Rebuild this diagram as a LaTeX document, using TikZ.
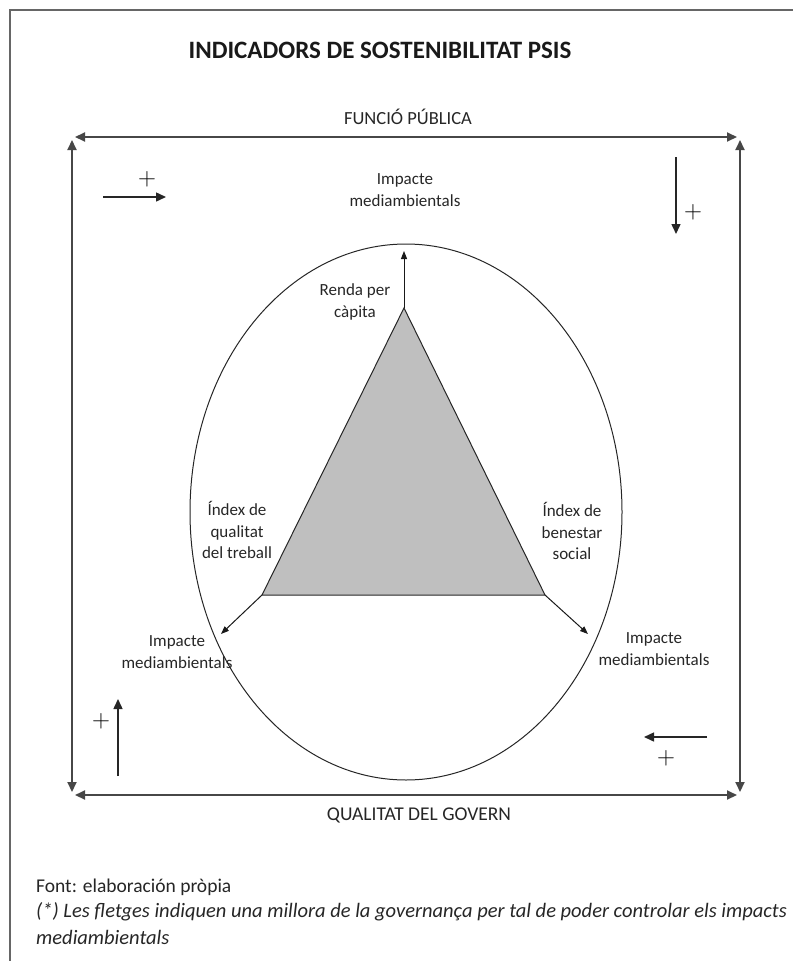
\documentclass[tikz,border=0pt]{standalone}
\usepackage{fontspec}
\setmainfont{Carlito}
\usetikzlibrary{arrows.meta,shapes.geometric}
\begin{document}
\begin{tikzpicture}[x=1pt,y=-1pt,
  frameline/.style={draw=black!72, line width=2pt, {Triangle[length=10pt,width=9pt]}-{Triangle[length=10pt,width=9pt]}},
  smallarrow/.style={draw=black!85, line width=1.5pt, -{Triangle[length=10pt,width=9pt]}},
  axisarrow/.style={draw=black!90, line width=1pt, -{Triangle[length=8pt,width=6pt]}},
  lbl/.style={font=\fontsize{17}{21.5}\selectfont, align=center, inner sep=0pt, text=black!85},
  capslbl/.style={font=\fontsize{19.5}{22}\selectfont, inner sep=0pt, text=black!85},
  plus/.style={font=\fontsize{23}{23}\selectfont, inner sep=0pt, text=black},
  foot/.style={font=\fontsize{19.5}{22}\selectfont, anchor=west, inner sep=0pt, text=black!85},
  footit/.style={foot, font=\fontsize{20.5}{22}\itshape\selectfont}
]
\useasboundingbox (0,0) rectangle (793,961);
% outer page frame
\draw[black!60, line width=1.2pt] (10,961) -- (10,10) -- (793,10);

% title
\node[font=\fontsize{25}{28}\bfseries\selectfont, inner sep=0pt, text=black!90] (title) at (380,50) {INDICADORS DE SOSTENIBILITAT PSIS};

% frame corners
\coordinate (tl) at (72,137);
\coordinate (tr) at (740,137);
\coordinate (bl) at (72,795);
\coordinate (br) at (740,795);
\draw[frameline] ([xshift=3pt]tl) -- ([xshift=-3pt]tr);
\draw[frameline] ([xshift=3pt]bl) -- ([xshift=-3pt]br);
\draw[frameline] ([yshift=-3pt]tl) -- ([yshift=3pt]bl);
\draw[frameline] ([yshift=-3pt]tr) -- ([yshift=3pt]br);

\node[capslbl, font=\fontsize{18.5}{22}\selectfont] (funcio) at (408,117) {FUNCIÓ PÚBLICA};
\node[capslbl] (qualitat) at (419,815) {QUALITAT DEL GOVERN};

% small governance arrows
\coordinate (a1s) at (103,197); \coordinate (a1e) at (166,197);
\draw[smallarrow] (a1s) -- (a1e);
\node[plus] (p1) at (147,179) {$+$};
\coordinate (a2s) at (676,157); \coordinate (a2e) at (676,234);
\draw[smallarrow] (a2s) -- (a2e);
\node[plus] (p2) at (693,212) {$+$};
\coordinate (a3s) at (118,776); \coordinate (a3e) at (118,699);
\draw[smallarrow] (a3s) -- (a3e);
\node[plus] (p3) at (101,721) {$+$};
\coordinate (a4s) at (707,737); \coordinate (a4e) at (644,737);
\draw[smallarrow] (a4s) -- (a4e);
\node[plus] (p4) at (666,758) {$+$};

% ellipse
\node[draw=black!85, line width=1pt, ellipse, minimum width=432pt, minimum height=536pt, inner sep=0pt] (ell) at (406,512) {};

% triangle
\coordinate (A) at (404,308);
\coordinate (B) at (262,595);
\coordinate (C) at (545,595);
\filldraw[fill=black!25, draw=black!85, line width=1pt] (A) -- (B) -- (C) -- cycle;

\coordinate (tA) at (404,251);
\coordinate (tB) at (221,634);
\coordinate (tC) at (588,634);
\draw[axisarrow] (A) -- (tA);
\draw[axisarrow] (B) -- (tB);
\draw[axisarrow] (C) -- (tC);

% labels
\node[lbl] (imptop) at (405,190) {Impacte\\mediambientals};
\node[lbl] (renda) at (355,302) {Renda per\\càpita};
\node[lbl] (idxq) at (237,530) {Índex de\\qualitat\\del treball};
\node[lbl] (idxb) at (572,531) {Índex de\\benestar\\social};
\node[lbl] (impl) at (177,652) {Impacte\\mediambientals};
\node[lbl] (impr) at (654,649) {Impacte\\mediambientals};

% footer
\node[foot] (font) at (36,887) {Font: elaboración pròpia};
\node[footit] (note1) at (36,912) {(*) Les fletges indiquen una millora de la governança per tal de poder controlar els impacts};
\node[footit] (note2) at (36,937) {mediambientals};
\end{tikzpicture}
\end{document}
